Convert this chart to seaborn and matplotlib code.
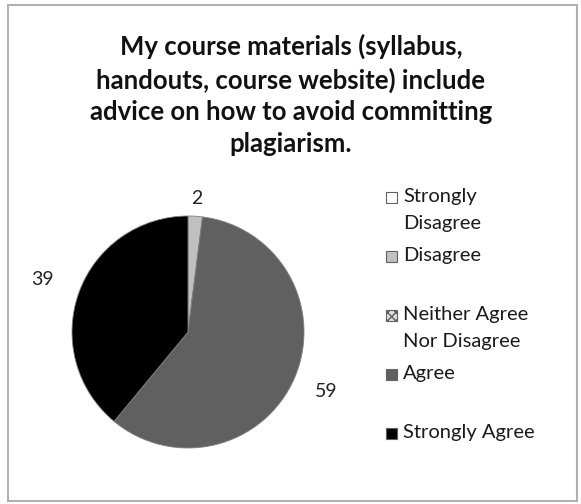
import matplotlib
matplotlib.use("Agg")
import matplotlib.pyplot as plt
from matplotlib.patches import Rectangle
import seaborn as sns
import numpy as np

# survey responses (percent)
categories = ['Strongly\nDisagree', 'Disagree', 'Neither Agree\nNor Disagree', 'Agree', 'Strongly Agree']
values = [0, 2, 0, 59, 39]
colors = ['#ffffff', '#c0c0c0', '#e0e0e0', '#606060', '#000000']
hatches = [None, None, 'xxxx', None, None]
title = 'My course materials (syllabus,\nhandouts, course website) include\nadvice on how to avoid committing\nplagiarism.'

sns.set_style('white')
plt.rcParams['font.family'] = ['Lato', 'DejaVu Sans']

W, H = 581, 504
fig = plt.figure(figsize=(W / 100, H / 100), dpi=100)

# outer chart frame
fig.patches.append(Rectangle((8 / W, 1 - 501 / H), 569 / W, 496 / H, transform=fig.transFigure,
                             fill=False, edgecolor='#b0b0b0', linewidth=1.5))

fig.text(291 / W, 1 - 34 / H, title, ha='center', va='top', fontsize=18.5, fontweight='bold',
         linespacing=1.38, color='#111111')

# pie axes: centre (188, 332), radius 116 px
cx, cy, r = 188, 332, 116
ax = fig.add_axes([(cx - r) / W, 1 - (cy + r) / H, 2 * r / W, 2 * r / H])
wedges, _ = ax.pie(values, colors=colors, startangle=90, counterclock=False,
                   wedgeprops=dict(edgecolor='#808080', linewidth=0.6))
for w, h in zip(wedges, hatches):
    if h:
        w.set_hatch(h)
ax.set_xlim(-1, 1)
ax.set_ylim(-1, 1)
ax.set_aspect('auto')

# data labels outside the wedges
label_dist = {1: 1.15, 3: 1.3, 4: 1.33}
for i, w in enumerate(wedges):
    if values[i] == 0:
        continue
    ang = np.deg2rad((w.theta1 + w.theta2) / 2)
    d = label_dist.get(i, 1.2)
    ax.text(d * np.cos(ang), d * np.sin(ang), str(values[i]), ha='center', va='center',
            fontsize=14, color='#222222', clip_on=False)

# legend, one evenly spaced slot per entry
lx, ly, step = 386, 188, 59
for i, (lab, c, h) in enumerate(zip(categories, colors, hatches)):
    top = ly + i * step
    fig.patches.append(Rectangle((lx / W, 1 - (top + 15) / H), 11 / W, 11 / H, transform=fig.transFigure,
                                 facecolor=c, edgecolor='#606060', linewidth=0.8, hatch=h))
    fig.text(403 / W, 1 - top / H, lab, ha='left', va='top', fontsize=14.5, linespacing=1.75,
             color='#1a1a1a')

fig.savefig('out.png', dpi=100)
